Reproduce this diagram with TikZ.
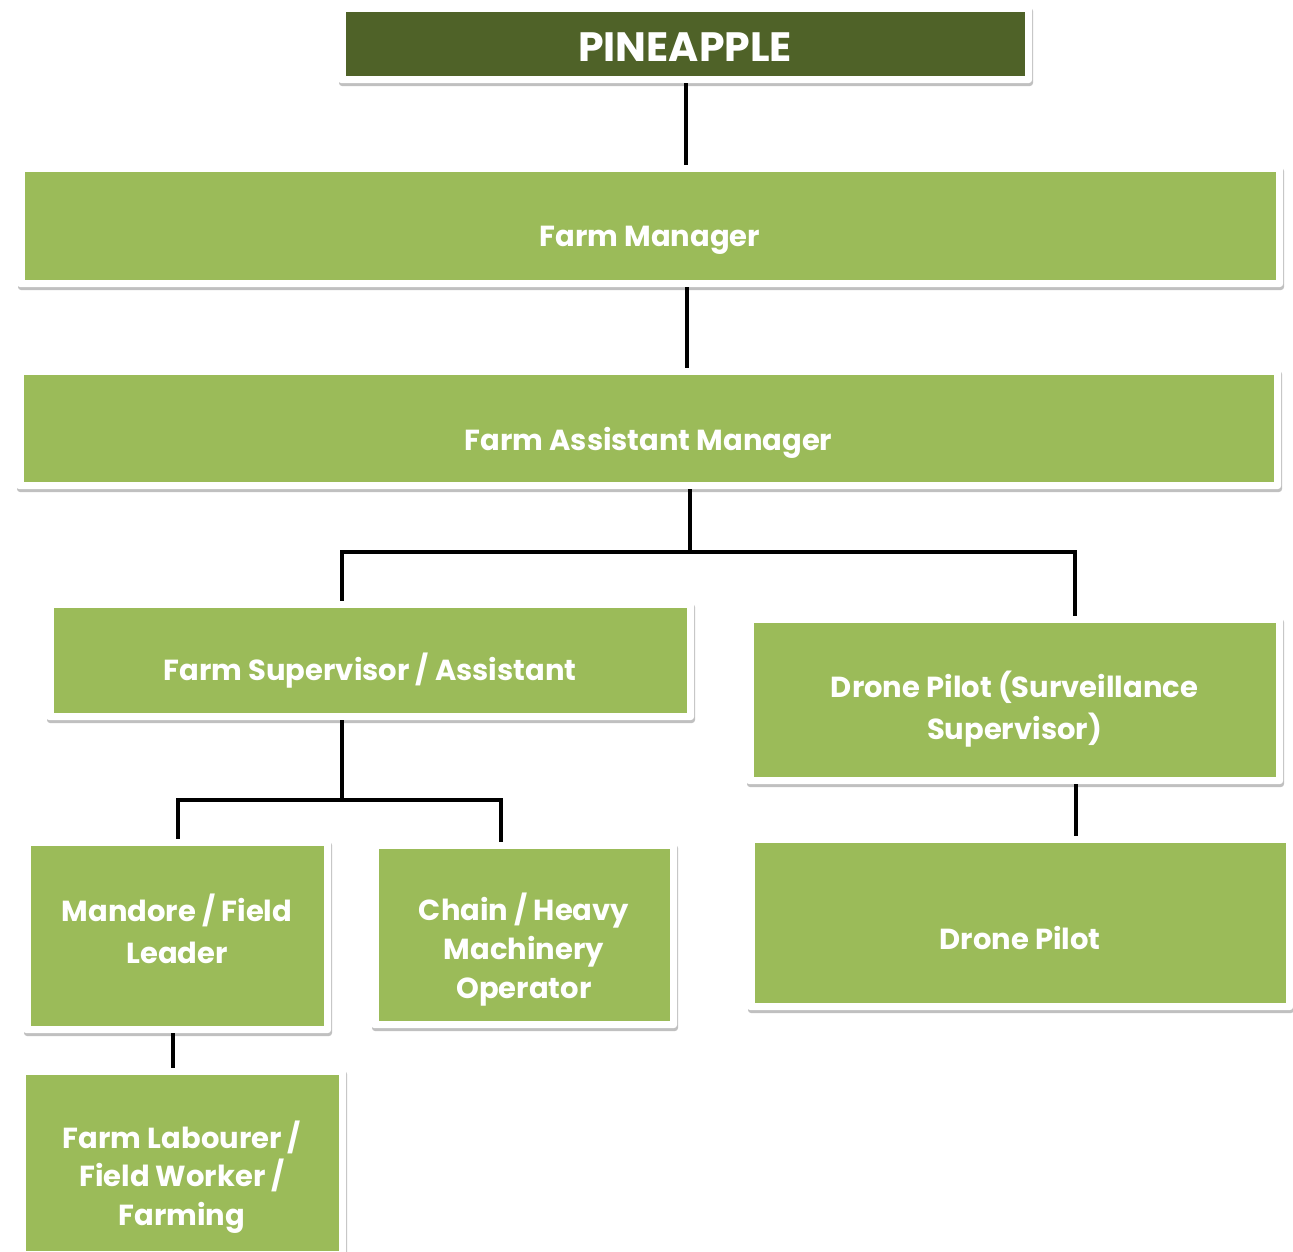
\documentclass[tikz,border=0pt]{standalone}
\usepackage{fontspec}
\setmainfont{Poppins}
\usetikzlibrary{shadows}
\definecolor{leaf}{HTML}{9BBB59}
\definecolor{olive}{HTML}{4F6228}
\tikzset{
  frame/.style={fill=white, rounded corners=3pt, inner sep=0pt,
    drop shadow={shadow xshift=1pt, shadow yshift=-3pt, opacity=0.35, fill=black!70}},
  gfill/.style={fill=leaf, inner sep=0pt},
  ofill/.style={fill=olive, inner sep=0pt},
  lbl/.style={text=white, inner sep=0pt, align=center,
    font=\fontsize{29}{#1}\selectfont\bfseries},
  lbl/.default=40,
  one/.style={lbl, text height=20.5pt, text depth=0pt},
  toplbl/.style={text=white, inner sep=0pt, text height=29pt, text depth=0pt,
    font=\fontsize{41}{48}\selectfont\bfseries},
  link/.style={line width=4pt, draw=black}
}
% name, x1, y1, x2, y2, fill style, label style, label y, text
\newcommand\orgbox[9]{%
  \node[frame, minimum width={#4-#2}, minimum height={#5-#3}] (#1) at ({(#2+#4)/2},{(#3+#5)/2}) {};
  \node[#6, minimum width={#4-#2-15}, minimum height={#5-#3-14}] (#1in) at (#1.center) {};
  \node[#7] (#1txt) at ({(#2+#4)/2},#8) {#9};
}
\begin{document}
\begin{tikzpicture}[x=1pt,y=-1pt]
\useasboundingbox[fill=white] (0,0) rectangle (1293,1251);
\orgbox{top}{338}{5}{1032}{83}{ofill}{toplbl}{47}{PINEAPPLE}
\orgbox{fm}{17}{165}{1283}{287}{gfill}{one}{236}{Farm Manager}
\orgbox{fam}{16}{368}{1281}{489}{gfill}{one}{440}{Farm Assistant Manager}
\orgbox{fsa}{46}{601}{694}{720}{gfill}{one}{670}{Farm Supervisor / Assistant}
\orgbox{dps}{746}{616}{1283}{784}{gfill}{lbl=42}{709}{Drone Pilot (Surveillance\\Supervisor)}
\orgbox{man}{23}{839}{331}{1033}{gfill}{lbl=42}{929}{Mandore / Field\\Leader}
\orgbox{chm}{371}{842}{677}{1028}{gfill}{lbl=39}{950}{Chain / Heavy\\Machinery\\Operator}
\orgbox{dp}{747}{836}{1293}{1010}{gfill}{one}{939}{Drone Pilot}
\orgbox{lab}{18}{1068}{346}{1258}{gfill}{lbl=38.5}{1177}{Farm Labourer /\\Field Worker /\\Farming}
% connectors
\draw[link] (top.south -| 686,0) -- (fm.north -| 686,0);
\draw[link] (fm.south -| 687,0) -- (fam.north -| 687,0);
\coordinate (j1) at (690,552);
\draw[link] (fam.south -| j1) -- (j1);
\draw[link, line join=miter] (fsa.north -| 342,0) -- (342,552) -- (1075,552) -- (dps.north -| 1075,0);
\coordinate (j2) at (342,800);
\draw[link] (fsa.south -| j2) -- (j2);
\draw[link, line join=miter] (man.north -| 178,0) -- (178,800) -- (501,800) -- (chm.north -| 501,0);
\draw[link] (man.south -| 173,0) -- (lab.north -| 173,0);
\draw[link] (dps.south -| 1076,0) -- (dp.north -| 1076,0);
\end{tikzpicture}
\end{document}
